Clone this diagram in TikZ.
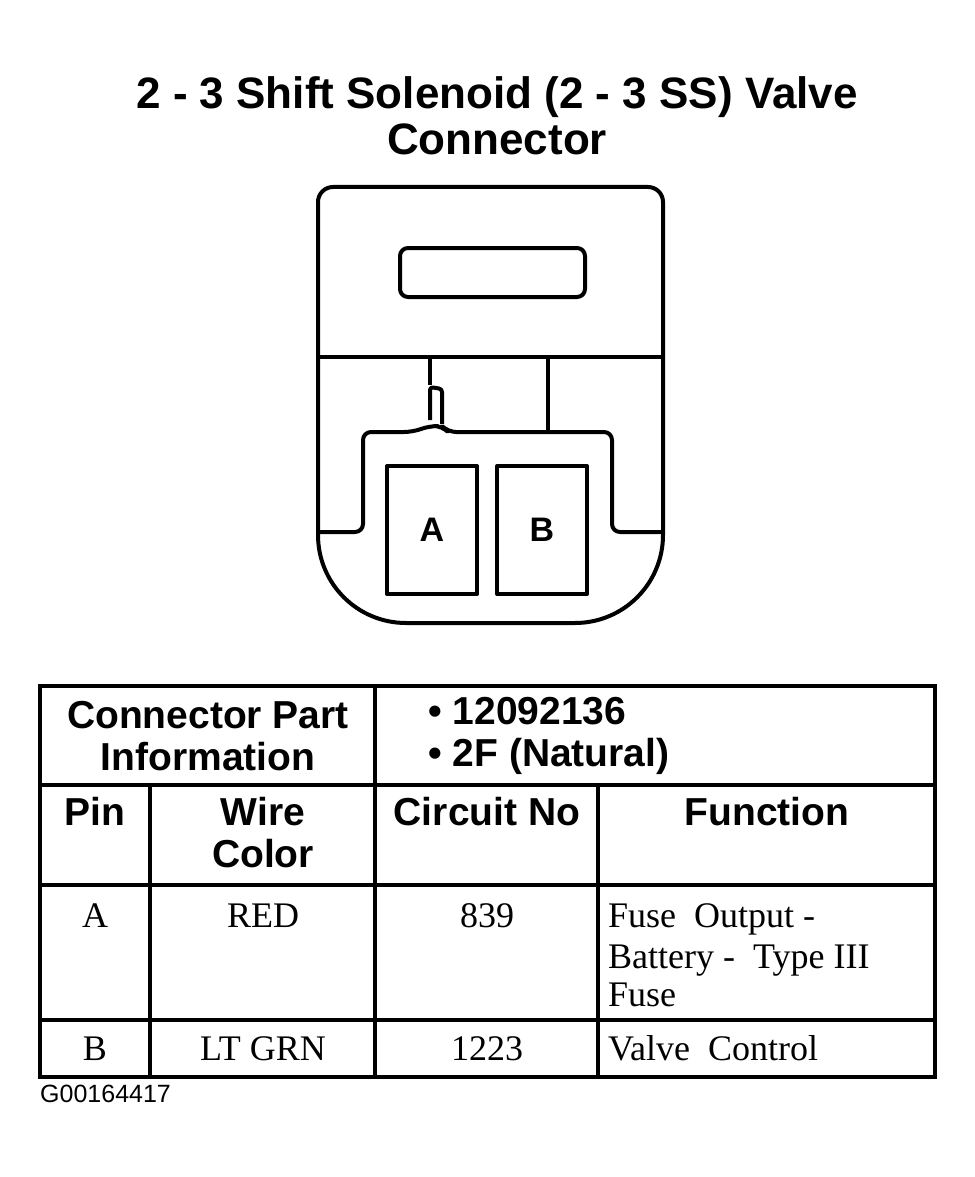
\documentclass[tikz,border=0pt]{standalone}
\usepackage{fontspec}
\setmainfont{Liberation Serif}
\setsansfont{Liberation Sans}
\begin{document}
\begin{tikzpicture}[x=1pt,y=-1pt,
  ln/.style={line width=4pt,line join=round},
  hd/.style={font=\sffamily\bfseries\fontsize{39}{42}\selectfont,align=center,inner sep=0},
  bd/.style={font=\fontsize{36}{40}\selectfont,inner sep=0,anchor=base},
  tl/.style={line width=4.5pt}]
\useasboundingbox (0,0) rectangle (974,1177);
\node[font=\sffamily\bfseries\fontsize{44}{46}\selectfont,align=center,anchor=north,inner sep=0] (title) at (497,76) {2 - 3 Shift Solenoid (2 - 3 SS) Valve\\Connector};
% connector
\draw[ln] (318,360) -- (318,202) arc[start angle=180,end angle=270,radius=15] -- (648,187) arc[start angle=270,end angle=360,radius=15] -- (663,535) arc[start angle=0,end angle=90,radius=88] -- (406,623) arc[start angle=90,end angle=180,radius=88] -- cycle;
\draw[ln,rounded corners=8] (400,248) rectangle (585,297);
\draw[ln] (318,357) -- (663,357);
\draw[ln] (430,357) -- (430,385);
\draw[ln] (548,357) -- (548,432);
\draw[ln,rounded corners=3] (430,420) -- (430,387) -- (442,389) -- (442,424);
\draw[ln,rounded corners=8] (318,532) -- (363,532) -- (363,432) -- (412,432) -- (430,426) -- (442,426) -- (448,432) -- (612,432) -- (612,532) -- (663,532);
\node[draw,ln,minimum width=90,minimum height=128,font=\sffamily\bfseries\fontsize{34}{38}\selectfont] (pa) at (432,530) {A};
\node[draw,ln,minimum width=90,minimum height=128,font=\sffamily\bfseries\fontsize{34}{38}\selectfont] (pb) at (542,530) {B};
% table
\draw[tl] (40,686) rectangle (935,1077);
\draw[tl] (40,785) -- (935,785) (40,885) -- (935,885) (40,1020) -- (935,1020);
\draw[tl] (375,686) -- (375,1077) (150,785) -- (150,1077) (598,785) -- (598,1077);
\node[hd] (h1) at (208,736) {Connector Part\\Information};
\node[hd,align=left,anchor=west] (h2) at (428,736) {\textbullet\ 12092136\\\textbullet\ 2F (Natural)};
\node[hd,anchor=north] (c1) at (95,797) {Pin};
\node[hd,anchor=north] (c2) at (263,797) {Wire\\Color};
\node[hd,anchor=north] (c3) at (487,797) {Circuit No};
\node[hd,anchor=north] (c4) at (767,797) {Function};
\node[bd] (a1) at (95,927) {A};
\node[bd] (a2) at (263,927) {RED};
\node[bd] (a3) at (487,927) {839};
\node[bd,anchor=base west,align=left] (a4) at (608,927) {Fuse\ \ Output -};
\node[bd,anchor=base west] (a5) at (608,968) {Battery\ - \ Type III};
\node[bd,anchor=base west] (a6) at (608,1006) {Fuse};
\node[bd] (b1) at (95,1060) {B};
\node[bd] (b2) at (263,1060) {LT GRN};
\node[bd] (b3) at (487,1060) {1223};
\node[bd,anchor=base west] (b4) at (608,1060) {Valve\ \ Control};
\node[font=\sffamily\fontsize{25}{28}\selectfont,anchor=base west,inner sep=0] (code) at (40,1102) {G00164417};
\end{tikzpicture}
\end{document}
